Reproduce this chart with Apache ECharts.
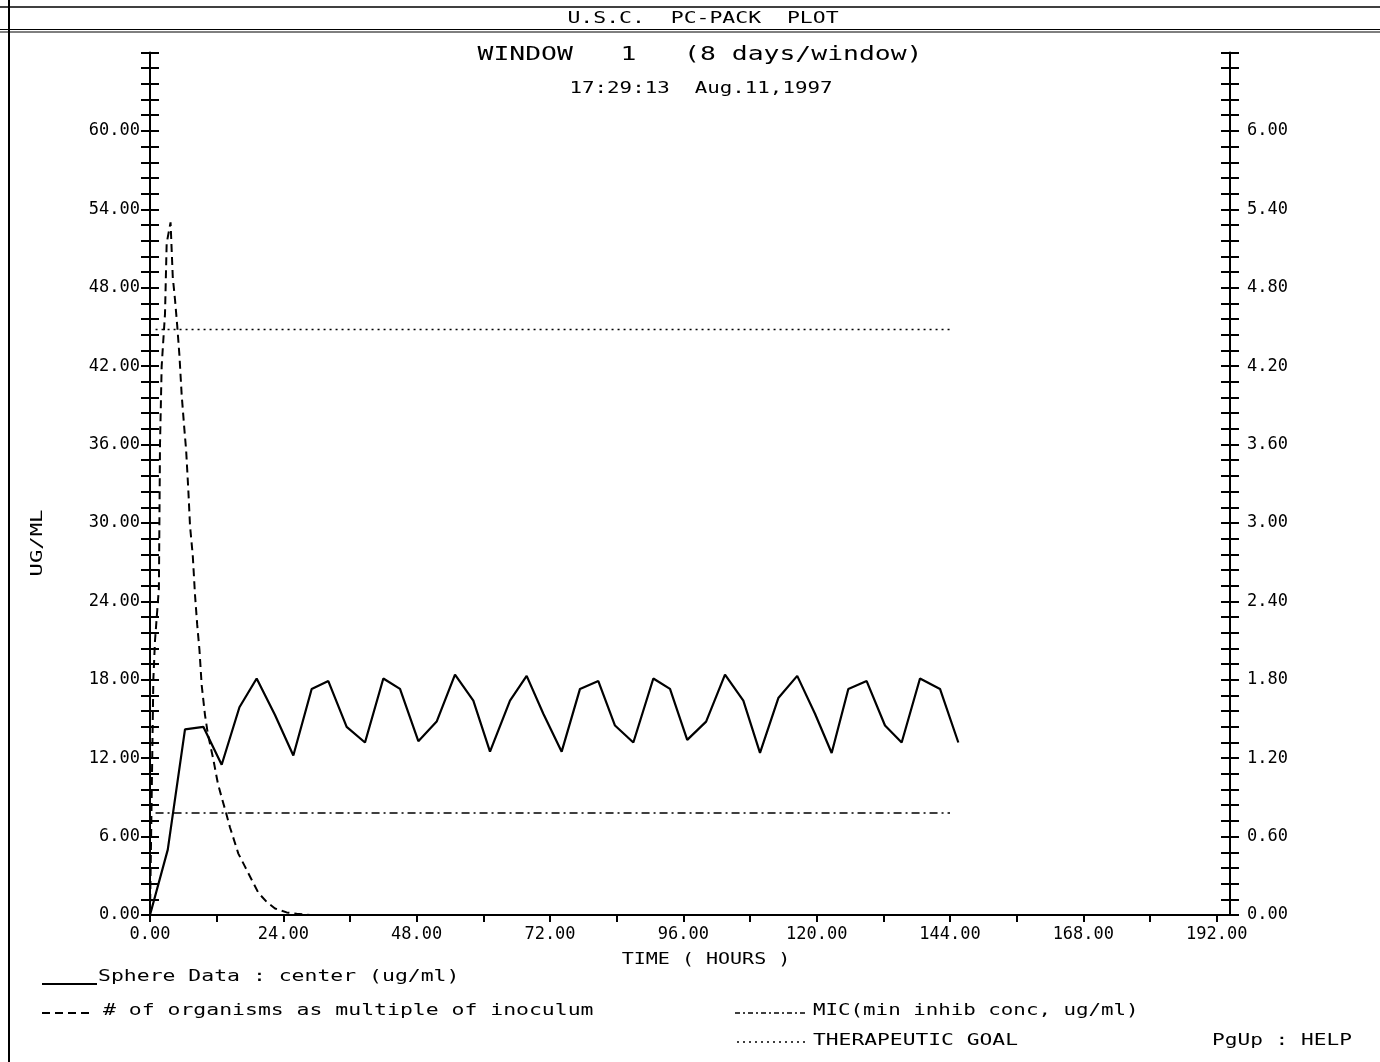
<!DOCTYPE html>
<html>
<head>
<meta charset="utf-8">
<script src="https://cdn.jsdelivr.net/npm/echarts@6/dist/echarts.min.js"></script>
<style>
html,body{margin:0;padding:0;background:#fff;}
#chart{width:1380px;height:1062px;}
</style>
</head>
<body>
<div id="chart"></div>
<script>
// ---- data ----
const sphereTimes = [0,3.2,6.3,9.6,12.9,16.1,19.2,22.5,25.8,29.1,32.1,35.4,38.7,42.0,45.0,48.3,51.6,54.9,58.2,61.2,64.8,67.8,70.8,74.1,77.4,80.7,83.7,87.0,90.6,93.6,96.7,100.1,103.5,106.8,109.8,113.1,116.5,119.7,122.7,125.7,129.0,132.3,135.3,138.6,142.2,145.5];
const sphereValues = [0,5.0,14.2,14.4,11.5,15.9,18.1,15.3,12.2,17.3,17.9,14.4,13.2,18.1,17.3,13.3,14.8,18.4,16.4,12.5,16.4,18.3,15.4,12.5,17.3,17.9,14.5,13.2,18.1,17.3,13.4,14.8,18.4,16.4,12.4,16.6,18.3,15.4,12.4,17.3,17.9,14.5,13.2,18.1,17.3,13.2];

const organismTimes = [0,0.6,0.9,1.6,1.8,2.1,2.7,3.0,3.7,4.1,4.5,4.9,5.3,5.7,6.2,6.5,6.9,7.2,7.7,8.1,8.5,8.9,9.3,9.9,10.4,11.4,12.2,12.9,13.7,14.4,15.9,17.1,18.3,19.5,21.0,22.5,24.6,26.4,28.8];
const organismValues = [0,1.8,2.1,2.5,3.6,4.2,4.6,5.14,5.3,4.88,4.71,4.51,4.28,3.98,3.71,3.56,3.25,2.98,2.75,2.45,2.22,2.03,1.76,1.53,1.39,1.19,1.01,0.90,0.78,0.67,0.47,0.37,0.27,0.17,0.10,0.05,0.02,0.01,0];

const micTimes = [1,144];
const micValues = [7.8,7.8];
const goalTimes = [1,144];
const goalValues = [44.8,44.8];

const xTickLabels = [0,24,48,72,96,120,144,168,192];
const xTicks = [0,12,24,36,48,60,72,84,96,108,120,132,144,156,168,180,192];
const yLeftLabels = [0,6,12,18,24,30,36,42,48,54,60];
const yRightLabels = [0,0.6,1.2,1.8,2.4,3.0,3.6,4.2,4.8,5.4,6.0];

// ---- chart ----
const FONT = '"DejaVu Sans Mono", "Liberation Mono", monospace';
const chart = echarts.init(document.getElementById('chart'), null, {renderer: 'canvas'});

function pairs(xs, ys){ return xs.map((x,i)=>[x, ys[i]]); }
function txt(text, x, y, opts){
  opts = opts || {};
  const size = opts.size || 16;
  return {
    type: 'text', x: x, y: y,
    scaleX: opts.sx || 1, scaleY: 1,
    rotation: opts.rot || 0,
    silent: true,
    style: {
      text: text,
      font: size + 'px ' + FONT,
      fill: '#000',
      align: opts.align || 'left', textAlign: opts.align || 'left',
      verticalAlign: 'middle', textVerticalAlign: 'middle'
    }
  };
}
function ln(x1,y1,x2,y2,dash,w){
  return {type:'line', silent:true, shape:{x1:x1,y1:y1,x2:x2,y2:y2},
    style:{stroke:'#000', lineWidth:w||2, lineDash:dash||null}};
}

const axisCommon = {
  type: 'value',
  splitLine: {show: false},
  axisLine: {show: true, lineStyle: {color: '#000', width: 2}},
  axisLabel: {color: '#000', fontFamily: FONT, fontSize: 17}
};

function isIn(arr, v){ return arr.some(a => Math.abs(a - v) < 1e-6); }

const option = {
  animation: false,
  backgroundColor: '#fff',
  grid: {left: 150, right: 150, top: 52.5, bottom: 147, containLabel: false, outerBoundsMode: 'none'},
  xAxis: {
    ...axisCommon,
    min: 0, max: 194.4, interval: 12,
    axisTick: {show: true, inside: false, length: 7, lineStyle: {color:'#000', width: 2}, customValues: xTicks},
    axisLabel: {...axisCommon.axisLabel, margin: 11, customValues: xTickLabels,
      formatter: v => isIn(xTickLabels, v) ? v.toFixed(2) : ''}
  },
  yAxis: [
    {
      ...axisCommon, position: 'left',
      min: 0, max: 66, interval: 1.2,
      axisTick: {show: true, inside: false, length: 9, lineStyle: {color:'#000', width: 2}},
      axisLabel: {...axisCommon.axisLabel, margin: 10, customValues: yLeftLabels,
        formatter: v => isIn(yLeftLabels, v) ? v.toFixed(2) : ''}
    },
    {
      ...axisCommon, position: 'right',
      min: 0, max: 6.6, interval: 0.12,
      axisTick: {show: true, inside: false, length: 9, lineStyle: {color:'#000', width: 2}},
      axisLabel: {...axisCommon.axisLabel, margin: 17, customValues: yRightLabels,
        formatter: v => isIn(yRightLabels, v) ? v.toFixed(2) : ''}
    },
    {
      ...axisCommon, position: 'left',
      min: 0, max: 66, interval: 1.2,
      axisLine: {show: false},
      axisTick: {show: true, inside: true, length: 9, lineStyle: {color:'#000', width: 2}},
      axisLabel: {show: false}
    },
    {
      ...axisCommon, position: 'right',
      min: 0, max: 6.6, interval: 0.12,
      axisLine: {show: false},
      axisTick: {show: true, inside: true, length: 9, lineStyle: {color:'#000', width: 2}},
      axisLabel: {show: false}
    }
  ],
  series: [
    {
      name: 'Sphere Data : center (ug/ml)', type: 'line', yAxisIndex: 0,
      data: pairs(sphereTimes, sphereValues), symbol: 'none', smooth: false,
      lineStyle: {color: '#000', width: 2.2}, z: 5
    },
    {
      name: '# of organisms as multiple of inoculum', type: 'line', yAxisIndex: 1,
      data: pairs(organismTimes, organismValues), symbol: 'none', smooth: false,
      lineStyle: {color: '#000', width: 2, type: [8, 5]}, z: 4
    },
    {
      name: 'MIC(min inhib conc, ug/ml)', type: 'line', yAxisIndex: 0,
      data: pairs(micTimes, micValues), symbol: 'none',
      lineStyle: {color: '#000', width: 1.5, type: [8, 4, 2, 4]}, z: 3
    },
    {
      name: 'THERAPEUTIC GOAL', type: 'line', yAxisIndex: 0,
      data: pairs(goalTimes, goalValues), symbol: 'none',
      lineStyle: {color: '#000', width: 1.5, type: [2, 4]}, z: 3
    }
  ],
  graphic: {
    elements: [
      // frame
      ln(0, 7, 1380, 7, null, 1.5),
      ln(0, 29.5, 1380, 29.5, null, 1),
      ln(0, 32, 1380, 32, null, 1),
      ln(9, 0, 9, 1062, null, 2),
      // header / titles
      txt('U.S.C.  PC-PACK  PLOT', 703, 19, {align:'center', sx:1.34}),
      txt('WINDOW   1   (8 days/window)', 700, 55, {align:'center', size:20, sx:1.32}),
      txt('17:29:13  Aug.11,1997', 701, 89, {align:'center', sx:1.3}),
      // axis names
      txt('UG/ML', 38, 543, {align:'center', rot: Math.PI/2, sx:1.39}),
      txt('TIME ( HOURS )', 706, 960, {align:'center', sx:1.25}),
      // legend
      ln(42, 984, 97, 984, null, 2),
      txt('Sphere Data : center (ug/ml)', 98, 977, {sx:1.34}),
      ln(42, 1013, 94, 1013, [8, 5], 2),
      txt('# of organisms as multiple of inoculum', 103, 1011, {sx:1.34}),
      ln(735, 1013, 808, 1013, [5, 3, 2, 3], 1.5),
      txt('MIC(min inhib conc, ug/ml)', 813, 1011, {sx:1.3}),
      ln(737, 1042, 806, 1042, [2, 4], 1.5),
      txt('THERAPEUTIC GOAL', 813, 1041, {sx:1.33}),
      txt('PgUp : HELP', 1212, 1041, {sx:1.32})
    ]
  }
};
chart.setOption(option);
</script>
</body>
</html>
